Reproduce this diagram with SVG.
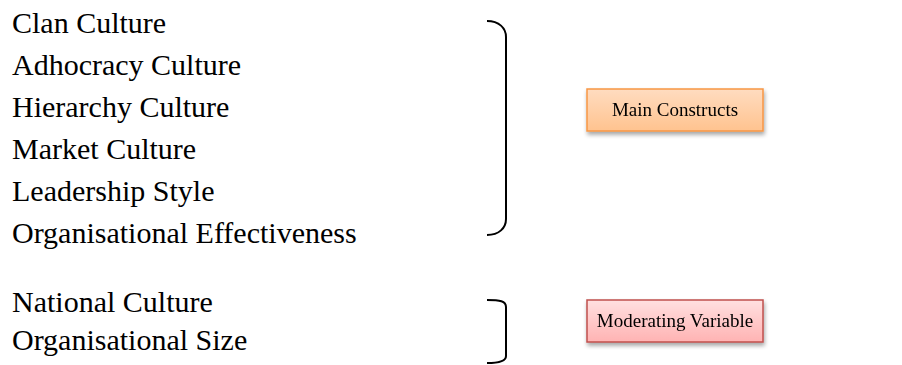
<svg xmlns="http://www.w3.org/2000/svg" width="902" height="365" viewBox="0 0 902 365">
  <defs>
    <linearGradient id="orangeFill" x1="0" y1="0" x2="0" y2="1">
      <stop offset="0" stop-color="#ffdcc0"/>
      <stop offset="1" stop-color="#ffc38f"/>
    </linearGradient>
    <linearGradient id="redFill" x1="0" y1="0" x2="0" y2="1">
      <stop offset="0" stop-color="#ffe0e0"/>
      <stop offset="1" stop-color="#ffb3b3"/>
    </linearGradient>
    <filter id="shadow" x="-10%" y="-20%" width="120%" height="160%">
      <feGaussianBlur in="SourceAlpha" stdDeviation="2"/>
      <feOffset dx="1" dy="3" result="b"/>
      <feComponentTransfer><feFuncA type="linear" slope="0.35"/></feComponentTransfer>
      <feMerge><feMergeNode/><feMergeNode in="SourceGraphic"/></feMerge>
    </filter>
  </defs>
  <style>
    .item { font-family: "Liberation Serif", "Times New Roman", serif; font-size: 30px; fill: #000; }
    .label { font-family: "Liberation Serif", "Times New Roman", serif; font-size: 19px; fill: #000; text-anchor: middle; }
    .brace { fill: none; stroke: #000; stroke-width: 2; }
  </style>

  <!-- construct lists -->
  <g id="main-list">
    <text class="item" x="12" y="33">Clan Culture</text>
    <text class="item" x="12" y="75">Adhocracy Culture</text>
    <text class="item" x="12" y="117">Hierarchy Culture</text>
    <text class="item" x="12" y="159">Market Culture</text>
    <text class="item" x="12" y="201">Leadership Style</text>
    <text class="item" x="12" y="243">Organisational Effectiveness</text>
  </g>
  <g id="moderator-list">
    <text class="item" x="12" y="312">National Culture</text>
    <text class="item" x="12" y="350">Organisational Size</text>
  </g>

  <!-- braces grouping the lists -->
  <g id="connectors">
    <path class="brace" d="M487,21 C499,21 506,28 506,37 L506,219 C506,228 499,235 487,235"/>
    <path class="brace" d="M487,300 C500,300 506,301 506,307 L506,356 C506,361 500,363 487,363"/>
  </g>

  <g id="main-constructs" filter="url(#shadow)">
    <rect x="587" y="89" width="176" height="42" fill="url(#orangeFill)" stroke="#f79646" stroke-width="1.5"/>
    <text class="label" x="675" y="116">Main Constructs</text>
  </g>
  <g id="moderating-variable" filter="url(#shadow)">
    <rect x="587" y="300" width="176" height="42" fill="url(#redFill)" stroke="#c0504d" stroke-width="1.5"/>
    <text class="label" x="675" y="327">Moderating Variable</text>
  </g>
</svg>
